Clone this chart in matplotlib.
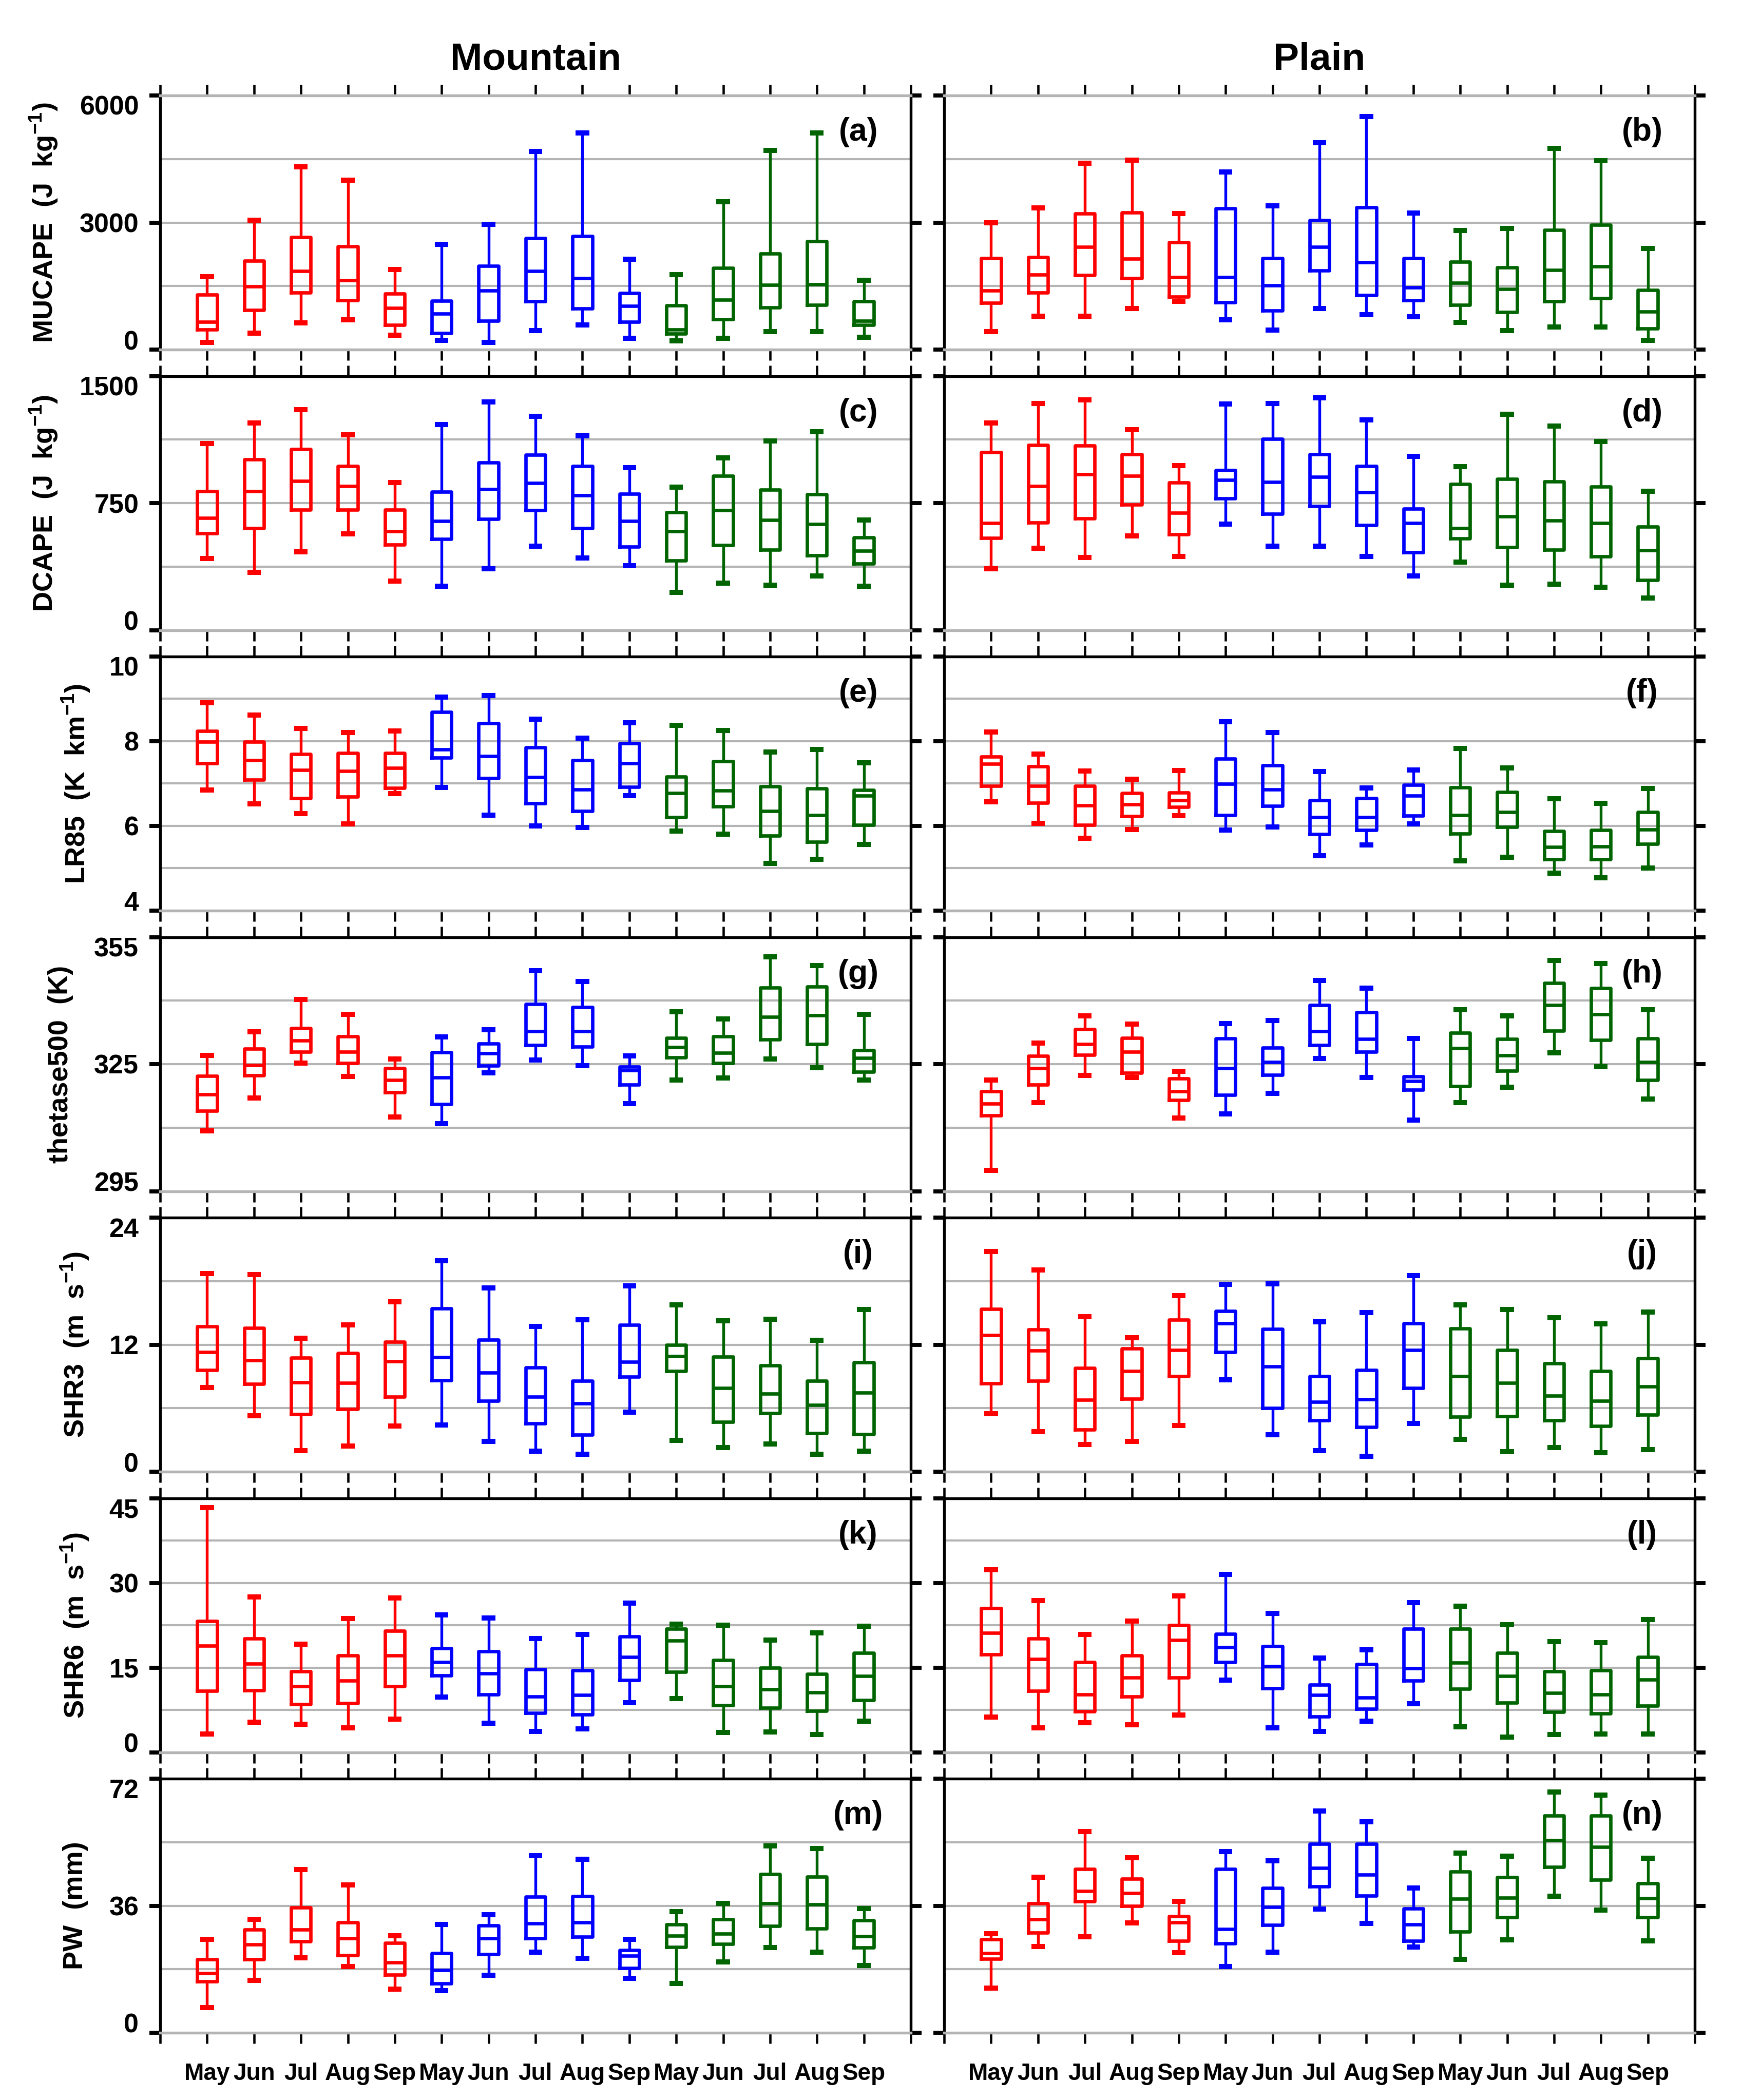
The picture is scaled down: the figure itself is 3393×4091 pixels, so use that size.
import numpy as np
import matplotlib
matplotlib.use('Agg')
import matplotlib.pyplot as plt

plt.rcParams['font.family'] = ['Liberation Sans', 'DejaVu Sans']
plt.rcParams['font.weight'] = 'bold'
plt.rcParams['mathtext.fontset'] = 'custom'
plt.rcParams['mathtext.rm'] = 'Liberation Sans:bold'
plt.rcParams['mathtext.bf'] = 'Liberation Sans:bold'
plt.rcParams['mathtext.default'] = 'bf'

months = ['May', 'Jun', 'Jul', 'Aug', 'Sep'] * 3
group_colors = ['red'] * 5 + ['blue'] * 5 + ['#006400'] * 5
column_titles = ['Mountain', 'Plain']

# every row: whisker low, q1, median, q3, whisker high
mucape_mountain = [
    [170, 470, 660, 1300, 1720], [390, 930, 1490, 2100, 3060], [630, 1350, 1860, 2660, 4310],
    [700, 1160, 1640, 2440, 4000], [340, 580, 980, 1320, 1890],
    [220, 390, 850, 1150, 2480], [170, 680, 1400, 1980, 2960], [450, 1140, 1850, 2630, 4680],
    [580, 970, 1690, 2680, 5110], [270, 660, 1030, 1330, 2130],
    [210, 380, 470, 1040, 1770], [270, 720, 1180, 1930, 3490], [430, 1000, 1530, 2270, 4700],
    [430, 1050, 1540, 2560, 5110], [290, 580, 680, 1140, 1640]]
mucape_plain = [
    [430, 1100, 1400, 2160, 3000], [790, 1350, 1770, 2180, 3340], [790, 1760, 2430, 3210, 4400],
    [970, 1680, 2150, 3240, 4470], [1140, 1250, 1710, 2530, 3210],
    [700, 1120, 1710, 3330, 4190], [460, 920, 1520, 2160, 3400], [970, 1870, 2430, 3060, 4890],
    [820, 1290, 2060, 3360, 5500], [770, 1160, 1470, 2160, 3230],
    [640, 1060, 1580, 2070, 2810], [450, 880, 1430, 1940, 2860], [530, 1140, 1880, 2830, 4750],
    [530, 1210, 1960, 2940, 4460], [220, 500, 900, 1410, 2390]]

dcape_mountain = [
    [422, 572, 663, 820, 1102], [342, 603, 820, 1008, 1223], [463, 711, 880, 1068, 1302],
    [567, 711, 851, 967, 1153], [289, 504, 584, 711, 871],
    [258, 538, 644, 818, 1215], [362, 656, 832, 989, 1348], [494, 707, 868, 1035, 1261],
    [427, 603, 796, 967, 1148], [381, 492, 644, 805, 960],
    [222, 410, 584, 695, 844], [277, 502, 709, 912, 1018], [265, 475, 651, 830, 1117],
    [321, 441, 625, 803, 1170], [258, 391, 468, 547, 651]]
dcape_plain = [
    [362, 543, 632, 1051, 1223], [482, 634, 851, 1092, 1338], [429, 658, 921, 1090, 1358],
    [555, 740, 912, 1037, 1182], [434, 564, 692, 871, 972],
    [627, 777, 885, 945, 1334], [494, 687, 873, 1129, 1338], [494, 733, 904, 1037, 1370],
    [434, 620, 813, 967, 1242], [321, 458, 632, 716, 1025],
    [403, 540, 603, 863, 965], [265, 490, 670, 892, 1273], [270, 475, 646, 878, 1206],
    [253, 434, 632, 846, 1114], [188, 294, 470, 610, 820]]

lr85_mountain = [
    [6.85, 7.48, 7.99, 8.24, 8.91], [6.52, 7.09, 7.55, 7.99, 8.62], [6.29, 6.66, 7.32, 7.70, 8.30],
    [6.05, 6.69, 7.30, 7.72, 8.20], [6.76, 6.90, 7.37, 7.72, 8.24],
    [6.91, 7.61, 7.80, 8.69, 9.04], [6.26, 7.13, 7.65, 8.43, 9.08], [6.00, 6.53, 7.15, 7.86, 8.52],
    [5.96, 6.35, 6.86, 7.55, 8.07], [6.71, 6.92, 7.48, 7.95, 8.44],
    [5.88, 6.21, 6.77, 7.16, 8.38], [5.80, 6.46, 6.84, 7.53, 8.25], [5.12, 5.77, 6.35, 6.93, 7.75],
    [5.21, 5.63, 6.26, 6.89, 7.80], [5.56, 6.03, 6.72, 6.85, 7.49]]
lr85_plain = [
    [6.57, 6.95, 7.47, 7.64, 8.22], [6.06, 6.54, 6.94, 7.41, 7.70], [5.71, 6.03, 6.48, 6.94, 7.30],
    [5.91, 6.23, 6.51, 6.78, 7.10], [6.24, 6.45, 6.61, 6.79, 7.31],
    [5.90, 6.26, 6.99, 7.59, 8.46], [5.97, 6.47, 6.86, 7.43, 8.20], [5.30, 5.80, 6.20, 6.60, 7.29],
    [5.55, 5.90, 6.20, 6.66, 6.90], [6.05, 6.24, 6.71, 6.97, 7.32],
    [5.17, 5.82, 6.25, 6.91, 7.83], [5.26, 5.97, 6.33, 6.80, 7.37], [4.88, 5.21, 5.50, 5.88, 6.64],
    [4.78, 5.21, 5.51, 5.90, 6.53], [5.00, 5.57, 5.91, 6.33, 6.88]]

thetase_mountain = [
    [309.2, 314.0, 317.8, 322.2, 327.1], [317.0, 322.3, 324.8, 328.6, 332.6],
    [325.3, 327.9, 330.6, 333.5, 340.3], [322.1, 325.2, 327.9, 331.6, 336.8],
    [312.5, 318.3, 321.3, 324.0, 326.2],
    [311.0, 315.6, 321.8, 327.8, 331.4], [323.0, 324.6, 327.5, 329.9, 333.1],
    [326.0, 329.5, 332.8, 339.2, 347.1], [324.6, 329.1, 332.8, 338.4, 344.5],
    [315.7, 320.1, 323.5, 324.4, 327.0],
    [321.3, 326.6, 329.0, 331.2, 337.4], [321.7, 325.2, 327.7, 331.5, 335.7],
    [326.2, 330.8, 336.2, 343.1, 350.3], [324.2, 329.7, 336.5, 343.3, 348.3],
    [321.3, 323.2, 326.5, 328.3, 336.8]]
thetase_plain = [
    [299.9, 312.9, 315.7, 318.6, 321.3], [315.9, 320.1, 324.0, 327.0, 330.0],
    [322.3, 327.2, 329.7, 333.2, 336.4], [321.9, 323.0, 327.9, 331.2, 334.4],
    [312.3, 316.5, 318.6, 321.6, 323.3],
    [313.3, 317.7, 324.0, 331.1, 334.6], [318.1, 322.5, 325.5, 328.9, 335.3],
    [326.3, 329.5, 332.7, 338.9, 344.8], [321.9, 327.9, 330.9, 337.2, 342.9],
    [311.8, 319.0, 321.0, 322.1, 331.1],
    [315.9, 319.8, 328.8, 332.4, 337.9], [319.6, 323.4, 327.1, 331.0, 336.4],
    [327.7, 332.9, 339.0, 344.1, 349.5], [324.4, 330.7, 336.8, 343.0, 348.7],
    [316.8, 321.3, 325.5, 331.1, 337.9]]

shr3_mountain = [
    [7.95, 9.62, 11.29, 13.70, 18.71], [5.29, 8.27, 10.51, 13.56, 18.64],
    [1.99, 5.43, 8.45, 10.76, 12.60], [2.41, 5.93, 8.38, 11.18, 13.85],
    [4.33, 7.07, 10.44, 12.28, 16.05],
    [4.40, 8.63, 10.79, 15.41, 19.92], [2.88, 6.71, 9.34, 12.46, 17.36],
    [1.92, 4.58, 7.07, 9.83, 13.70], [1.63, 3.48, 6.43, 8.56, 14.34],
    [5.61, 8.95, 10.40, 13.85, 17.57],
    [2.95, 9.48, 10.93, 11.96, 15.76], [2.27, 4.69, 7.88, 10.86, 14.24],
    [2.63, 5.54, 7.35, 10.05, 14.41], [1.63, 3.66, 6.32, 8.56, 12.43],
    [1.92, 3.55, 7.49, 10.33, 15.30]]
shr3_plain = [
    [5.47, 8.34, 12.92, 15.37, 20.80], [3.76, 8.59, 11.43, 13.42, 19.07],
    [2.59, 3.98, 6.78, 9.80, 14.63], [2.88, 6.89, 9.51, 11.64, 12.64],
    [4.37, 9.02, 11.50, 14.34, 16.62],
    [8.70, 11.29, 13.99, 15.16, 17.68], [3.48, 6.00, 9.94, 13.49, 17.75],
    [1.99, 4.86, 6.57, 9.02, 14.17], [1.46, 4.22, 6.82, 9.59, 15.02],
    [4.58, 7.88, 11.50, 13.99, 18.50],
    [3.05, 5.18, 9.02, 13.53, 15.76], [1.88, 5.25, 8.38, 11.50, 15.34],
    [2.27, 4.86, 7.17, 10.22, 14.56], [1.78, 4.33, 6.71, 9.51, 13.95],
    [2.09, 5.36, 8.06, 10.72, 15.09]]

shr6_mountain = [
    [3.2, 10.9, 18.9, 23.2, 43.3], [5.3, 11.0, 15.7, 20.1, 27.5], [5.0, 8.5, 11.7, 14.3, 19.1],
    [4.3, 8.7, 12.7, 17.1, 23.7], [5.9, 11.7, 17.1, 21.5, 27.3],
    [9.8, 13.6, 16.0, 18.4, 24.3], [5.1, 10.2, 14.0, 17.9, 23.8], [3.7, 7.0, 9.9, 14.7, 20.1],
    [4.1, 6.7, 10.1, 14.5, 20.9], [8.8, 12.8, 16.9, 20.5, 26.4],
    [9.5, 14.2, 19.8, 21.9, 22.7], [3.5, 8.3, 11.7, 16.3, 22.5], [3.6, 7.9, 11.1, 15.0, 19.9],
    [3.1, 7.3, 10.6, 13.9, 21.1], [5.5, 9.2, 13.5, 17.6, 22.3]]
shr6_plain = [
    [6.2, 17.3, 21.1, 25.5, 32.3], [4.3, 10.9, 16.5, 20.1, 26.9], [5.2, 7.2, 10.2, 16.0, 20.9],
    [4.9, 9.9, 13.2, 17.1, 23.2], [6.6, 13.2, 19.9, 22.5, 27.7],
    [12.8, 16.0, 18.6, 21.0, 31.5], [4.3, 11.3, 15.2, 18.8, 24.6], [3.7, 6.3, 10.1, 12.0, 16.7],
    [5.5, 7.7, 9.7, 15.6, 18.1], [8.6, 12.7, 14.9, 21.9, 26.5],
    [4.5, 11.2, 15.9, 21.9, 25.9], [2.7, 8.8, 13.5, 17.6, 22.6], [3.1, 7.1, 10.5, 14.3, 19.6],
    [3.2, 6.9, 10.2, 14.5, 19.4], [3.2, 8.2, 12.9, 16.9, 23.5]]

pw_mountain = [
    [7.2, 14.5, 16.9, 20.8, 26.5], [14.9, 20.8, 25.0, 29.2, 32.2], [21.2, 25.9, 29.2, 35.5, 46.3],
    [18.7, 22.0, 26.8, 31.3, 41.9], [12.3, 16.4, 19.9, 25.4, 27.5],
    [12.0, 13.9, 17.7, 22.6, 30.7], [16.3, 22.3, 26.8, 30.4, 33.4], [22.8, 26.7, 31.0, 38.6, 50.2],
    [21.1, 27.2, 31.3, 38.7, 49.1], [15.4, 18.3, 21.8, 23.4, 26.5],
    [14.0, 24.3, 27.5, 30.7, 34.3], [20.1, 25.1, 28.1, 32.1, 36.7], [24.1, 30.3, 36.7, 44.9, 53.0],
    [22.9, 29.5, 36.3, 44.2, 52.2], [19.1, 24.2, 27.3, 31.8, 35.2]]
pw_plain = [
    [12.7, 20.9, 22.5, 26.5, 28.1], [24.4, 28.3, 32.1, 36.7, 44.1], [27.2, 37.3, 40.1, 46.4, 57.0],
    [31.1, 36.0, 39.6, 43.7, 49.6], [22.7, 26.1, 31.3, 33.0, 37.2],
    [18.7, 25.3, 29.4, 46.4, 51.3], [22.9, 30.5, 35.7, 41.0, 48.8], [35.1, 41.4, 46.7, 53.6, 62.8],
    [31.0, 38.9, 44.8, 53.6, 59.8], [24.3, 26.1, 30.7, 35.2, 41.0],
    [20.8, 28.7, 38.0, 45.7, 50.9], [26.4, 32.8, 38.3, 44.1, 50.0], [38.7, 47.0, 54.6, 61.6, 68.2],
    [34.8, 43.3, 52.7, 61.6, 67.3], [26.1, 32.7, 38.1, 42.3, 49.4]]

# ylabel, ymin, ymax, labelled tick step, mountain data, plain data
panels = [
    ('MUCAPE  (J  kg$^{-1}$)', 0, 6000, 3000, mucape_mountain, mucape_plain),
    ('DCAPE  (J  kg$^{-1}$)', 0, 1500, 750, dcape_mountain, dcape_plain),
    ('LR85  (K  km$^{-1}$)', 4, 10, 2, lr85_mountain, lr85_plain),
    ('thetase500  (K)', 295, 355, 30, thetase_mountain, thetase_plain),
    ('SHR3  (m  s$^{-1}$)', 0, 24, 12, shr3_mountain, shr3_plain),
    ('SHR6  (m  s$^{-1}$)', 0, 45, 15, shr6_mountain, shr6_plain),
    ('PW  (mm)', 0, 72, 36, pw_mountain, pw_plain),
]
ylabel_x = [-0.155, -0.155, -0.112, -0.133, -0.113, -0.113, -0.113]
letters = 'abcdefghijklmn'
gray = '#b4b4b4'

W, H = 3393, 4091
fig = plt.figure(figsize=(W / 300, H / 300), dpi=300)
col_left = [312 / W, 1839 / W]
ax_w = 1462 / W
ax_h = 495 / H

for r, (ylabel, ymin, ymax, step, mtn, pln) in enumerate(panels):
    top_px = 186 + 546.5 * r
    for c, data in enumerate([mtn, pln]):
        ax = fig.add_axes([col_left[c], 1 - (top_px + 495) / H, ax_w, ax_h])

        # light grid lines every half label step
        for v in np.arange(ymin + step / 2, ymax, step / 2):
            ax.axhline(v, color=gray, lw=1.0, zorder=0)

        for i, (d, col) in enumerate(zip(data, group_colors)):
            st = dict(whislo=d[0], q1=d[1], med=d[2], q3=d[3], whishi=d[4], fliers=[])
            ax.bxp([st], positions=[i + 1], widths=0.42, capwidths=0.18, showfliers=False,
                   boxprops=dict(color=col, lw=1.6),
                   whiskerprops=dict(color=col, lw=1.3),
                   capprops=dict(color=col, lw=2.4),
                   medianprops=dict(color=col, lw=1.6))

        ax.set_xlim(0, 16)
        ax.set_ylim(ymin, ymax)
        ax.set_xticks(range(17))
        ax.set_yticks(np.arange(ymin, ymax + step / 2, step))

        for s in ax.spines.values():
            s.set_linewidth(1.3)
        ax.spines['bottom'].set_color(gray)
        if r == 0:
            ax.spines['top'].set_color(gray)

        ax.tick_params(axis='x', direction='out', top=True, bottom=True,
                       length=5, width=1.1, labeltop=False)
        ax.tick_params(axis='y', direction='out', left=True, right=True,
                       length=5, width=1.9, labelright=False)

        if r == len(panels) - 1:
            ax.set_xticklabels([''] + months + [''], fontsize=11)
            ax.tick_params(axis='x', pad=9)
        else:
            ax.tick_params(axis='x', labelbottom=False)

        if c == 0:
            ax.set_yticklabels([str(int(v)) for v in np.arange(ymin, ymax + step / 2, step)],
                               fontsize=12.5)
            ax.tick_params(axis='y', pad=5)
            lbls = ax.get_yticklabels()
            lbls[0].set_va('baseline')
            lbls[-1].set_va('top')
            ax.text(ylabel_x[r], 0.5, ylabel, rotation=90, ha='center', va='center',
                    fontsize=13, transform=ax.transAxes)
        else:
            ax.tick_params(axis='y', labelleft=False)

        ax.text(0.93, 0.855, '(' + letters[2 * r + c] + ')', ha='center', va='center',
                fontsize=15, transform=ax.transAxes)

        if r == 0:
            ax.set_title(column_titles[c], fontsize=18, fontweight='bold', pad=12)

fig.savefig('out.png', dpi=300)
